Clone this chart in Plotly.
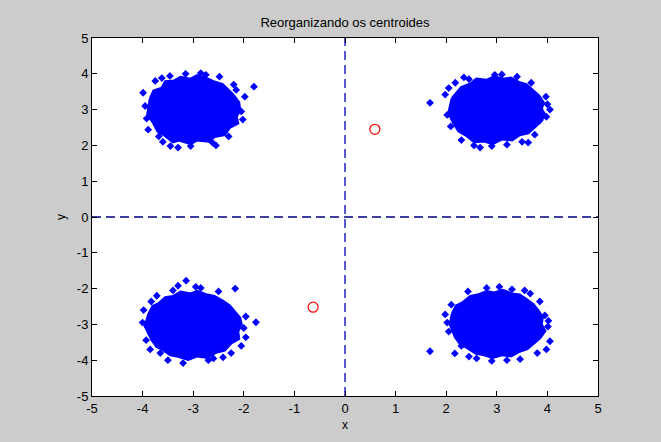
import plotly.graph_objects as go

# Cluster dense-core outlines (data units)
c1_x = [-3.85, -3.78, -3.62, -3.55, -3.38, -3.25, -3.05, -2.92, -2.72, -2.60, -2.42, -2.30, -2.22, -2.10, -2.08, -2.15, -2.12, -2.28, -2.38, -2.58, -2.70, -2.92, -3.05, -3.28, -3.40, -3.58, -3.70, -3.78, -3.90, -3.85]
c1_y = [3.30, 3.52, 3.60, 3.78, 3.80, 3.90, 3.85, 3.95, 3.86, 3.78, 3.70, 3.52, 3.42, 3.20, 2.98, 2.80, 2.62, 2.50, 2.30, 2.25, 2.12, 2.15, 2.05, 2.15, 2.10, 2.30, 2.40, 2.62, 2.85, 3.30]
c2_x = [2.12, 2.22, 2.30, 2.48, 2.60, 2.80, 2.95, 3.12, 3.28, 3.45, 3.58, 3.72, 3.82, 3.92, 3.88, 3.95, 3.85, 3.75, 3.62, 3.45, 3.30, 3.10, 2.92, 2.75, 2.55, 2.40, 2.25, 2.15, 2.05, 2.12]
c2_y = [3.32, 3.50, 3.62, 3.72, 3.85, 3.82, 3.92, 3.85, 3.88, 3.75, 3.70, 3.52, 3.40, 3.20, 3.02, 2.85, 2.65, 2.52, 2.35, 2.30, 2.15, 2.18, 2.05, 2.12, 2.10, 2.28, 2.40, 2.62, 2.90, 3.32]
c3_x = [-3.88, -3.80, -3.68, -3.55, -3.40, -3.25, -3.05, -2.92, -2.72, -2.58, -2.42, -2.28, -2.18, -2.08, -2.05, -2.12, -2.10, -2.25, -2.38, -2.55, -2.72, -2.92, -3.10, -3.28, -3.45, -3.60, -3.72, -3.82, -3.95, -3.88]
c3_y = [-2.72, -2.50, -2.42, -2.25, -2.22, -2.10, -2.15, -2.08, -2.18, -2.22, -2.35, -2.48, -2.65, -2.82, -3.00, -3.20, -3.40, -3.52, -3.72, -3.78, -3.92, -3.88, -3.98, -3.90, -3.85, -3.70, -3.62, -3.42, -3.05, -2.72]
c4_x = [2.12, 2.20, 2.32, 2.48, 2.62, 2.80, 2.95, 3.12, 3.30, 3.45, 3.60, 3.72, 3.82, 3.90, 3.88, 3.95, 3.85, 3.75, 3.60, 3.45, 3.28, 3.10, 2.92, 2.75, 2.58, 2.42, 2.28, 2.18, 2.08, 2.12]
c4_y = [-2.70, -2.48, -2.40, -2.22, -2.18, -2.08, -2.12, -2.05, -2.15, -2.18, -2.32, -2.45, -2.62, -2.80, -3.00, -3.18, -3.38, -3.50, -3.68, -3.75, -3.88, -3.85, -3.92, -3.85, -3.80, -3.65, -3.55, -3.35, -3.00, -2.70]

# Scattered edge points (data units)
o1_x = [-1.80, -3.99, -3.46, -3.89, -3.30, -2.75, -1.98, -2.02, -3.60, -2.55, -2.30, -3.95, -3.05, -2.85, -3.75, -2.20,
        -3.92, -3.62, -2.48, -2.05, -3.15, -3.68, -2.62, -2.15, -3.45]
o1_y = [3.64, 3.47, 3.94, 2.44, 1.94, 3.97, 3.36, 2.72, 2.10, 2.00, 2.25, 3.10, 1.98, 4.02, 3.80, 3.70,
        2.75, 3.88, 3.92, 2.95, 4.00, 2.25, 2.08, 3.55, 1.98]
o2_x = [1.68, 1.98, 3.97, 4.05, 3.62, 2.67, 2.96, 3.68, 2.09, 2.30, 3.20, 2.45, 3.85, 3.40, 2.05, 2.90,
        2.18, 3.98, 2.55, 3.75, 3.10, 2.35, 3.50, 4.00, 2.02]
o2_y = [3.19, 3.42, 3.36, 3.00, 2.08, 1.94, 3.97, 3.75, 2.53, 2.15, 2.02, 3.85, 2.70, 3.92, 3.60, 1.98,
        3.75, 2.80, 2.00, 2.30, 3.98, 3.90, 2.10, 3.15, 2.85]
o3_x = [-3.14, -2.17, -1.76, -1.96, -1.96, -3.83, -3.20, -3.93, -2.41, -3.40, -2.70, -3.65, -2.95, -2.05, -4.00, -3.50,
        -3.72, -2.50, -2.00, -3.85, -2.85, -3.30, -2.25, -3.98, -2.60]
o3_y = [-1.78, -2.00, -2.94, -2.78, -3.36, -2.36, -4.08, -3.44, -3.92, -2.05, -4.00, -3.80, -1.95, -3.60, -2.95, -4.00,
        -2.20, -2.08, -3.10, -3.70, -1.98, -1.92, -3.80, -2.60, -3.95]
o4_x = [1.68, 2.17, 4.05, 4.01, 3.46, 2.43, 3.66, 3.85, 1.98, 2.80, 3.20, 2.05, 3.95, 2.60, 3.05, 2.30,
        2.10, 3.98, 3.55, 2.45, 3.80, 2.90, 2.02, 3.30, 4.02]
o4_y = [-3.75, -3.81, -3.47, -3.06, -3.97, -2.08, -2.14, -2.36, -2.72, -1.98, -4.00, -3.20, -2.75, -3.95, -1.95, -3.60,
        -2.45, -3.70, -2.05, -3.90, -3.80, -4.02, -2.95, -2.02, -2.90]

# Centroids
cent_x = [0.59, -0.63]
cent_y = [2.45, -2.52]

# Axis lines
axis_range = [-5, 5]
zero = [0, 0]
ticks = [-5, -4, -3, -2, -1, 0, 1, 2, 3, 4, 5]

BLUE = "#0000ff"
fig = go.Figure()

for cx, cy in [(c1_x, c1_y), (c2_x, c2_y), (c3_x, c3_y), (c4_x, c4_y)]:
    fig.add_trace(go.Scatter(x=cx, y=cy, mode="lines", fill="toself", fillcolor=BLUE,
                             line=dict(color=BLUE, width=3), hoverinfo="skip", showlegend=False))
for ox, oy in [(o1_x, o1_y), (o2_x, o2_y), (o3_x, o3_y), (o4_x, o4_y)]:
    fig.add_trace(go.Scatter(x=ox, y=oy, mode="markers",
                             marker=dict(symbol="diamond", size=6, color=BLUE, line=dict(width=0)),
                             showlegend=False))

fig.add_trace(go.Scatter(x=axis_range, y=zero, mode="lines",
                         line=dict(color="#000080", width=1.3, dash="9px,5px"), showlegend=False))
fig.add_trace(go.Scatter(x=zero, y=axis_range, mode="lines",
                         line=dict(color="#0000c0", width=1.3, dash="9px,5px"), showlegend=False))

fig.add_trace(go.Scatter(x=cent_x, y=cent_y, mode="markers",
                         marker=dict(symbol="circle-open", size=10, color="red", line=dict(width=1.2)),
                         showlegend=False))

FONT = "Liberation Sans, Arial"
axis_common = dict(range=axis_range, tickvals=ticks, ticktext=[str(t) for t in ticks],
                   showgrid=False, zeroline=False, showline=True, linecolor="black", linewidth=1,
                   mirror="ticks", ticks="inside", ticklen=5, tickcolor="black",
                   tickfont=dict(family=FONT, size=13, color="black"))

fig.update_layout(
    width=661, height=442,
    paper_bgcolor="#cccccc", plot_bgcolor="white",
    margin=dict(l=92, r=63, t=38, b=44),
    title=dict(text="Reorganizando os centroides", x=0.5, xanchor="center", y=0.95, yanchor="middle",
               xref="paper",
               font=dict(family=FONT, size=13, color="black")),
    xaxis=dict(**axis_common, title=dict(text="x", standoff=6,
               font=dict(family=FONT, size=12, color="black"))),
    yaxis=dict(**axis_common, title=dict(text="y", standoff=8,
               font=dict(family=FONT, size=12, color="black"))),
    showlegend=False,
)

fig.write_html("out.html", config={"displayModeBar": False},
               post_script="document.body.style.margin='0';document.body.style.background='#cccccc';")
